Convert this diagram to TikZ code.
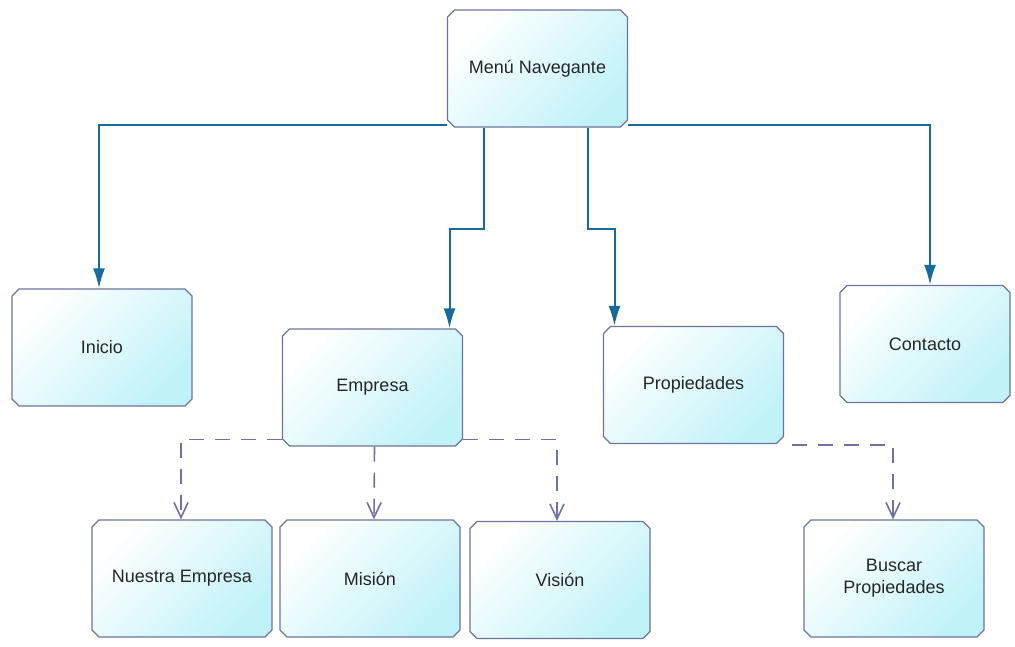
\documentclass[tikz,border=0pt]{standalone}
\usepackage{fontspec}
\setmainfont{Liberation Sans}
\usetikzlibrary{shapes.misc,arrows.meta}

\definecolor{boxcyan}{RGB}{192,242,248}
\definecolor{boxedge}{RGB}{110,116,156}
\definecolor{navblue}{RGB}{22,106,156}
\definecolor{subgray}{RGB}{112,112,165}

\tikzset{
	menubox/.style={chamfered rectangle, chamfered rectangle xsep=3.5pt, chamfered rectangle ysep=3.5pt,
		draw=boxedge, line width=1.3pt, top color=white, bottom color=boxcyan, shading angle=45,
		minimum width=180pt, minimum height=117pt, inner sep=0pt, align=center,
		font=\fontsize{18}{22}\selectfont, text=black!85},
	navline/.style={draw=navblue, line width=2pt, -{Latex[length=20pt,width=12pt,fill=navblue]}},
	subline/.style={draw=subgray, line width=1.6pt, dash pattern=on 15pt off 11pt,
		-{Straight Barb[length=15pt,width=14pt]}}
}

\begin{document}
\begin{tikzpicture}[x=1pt,y=-1pt]
	
	\useasboundingbox[fill=white] (0,0) rectangle (1015,646);
	
	\node[menubox] (menu) at (537.5, 68.5)      {Menú Navegante};
	\node[menubox] (inicio) at (102, 347.5)     {Inicio};
	\node[menubox] (empresa) at (372.5, 387.5)  {Empresa};
	\node[menubox] (propiedades) at (693.5, 385) {Propiedades};
	\node[menubox, minimum width=170pt] (contacto) at (925, 344) {Contacto};
	\node[menubox] (nuestra) at (182, 578.5)    {Nuestra Empresa};
	\node[menubox] (mision) at (370, 578.5)     {Misión};
	\node[menubox] (vision) at (560, 580)       {Visión};
	\node[menubox] (buscar) at (894, 578.5)     {Buscar\\Propiedades};
	
	\draw[navline] ([yshift=-56pt]menu.west) -| ([xshift=-3pt]inicio.north);
	\draw[navline] ([yshift=-56pt]menu.east) -| ([xshift=5pt]contacto.north);
	\draw[navline] ([xshift=-54pt]menu.south) -- ++(0,101) -| ([xshift=77pt]empresa.north);
	\draw[navline] ([xshift=50pt]menu.south) -- ++(0,101) -| ([xshift=-79pt]propiedades.north);
	
	\draw[subline] ([yshift=-52pt]empresa.west) -| ([xshift=-1pt]nuestra.north);
	\draw[subline] ([xshift=2pt]empresa.south) -- ([xshift=4pt]mision.north);
	\draw[subline] ([yshift=-52pt]empresa.east) -| ([xshift=-3pt]vision.north);
	\draw[subline] ([xshift=8pt,yshift=-60pt]propiedades.east) -| ([xshift=-1pt]buscar.north);
	
\end{tikzpicture}
\end{document}
